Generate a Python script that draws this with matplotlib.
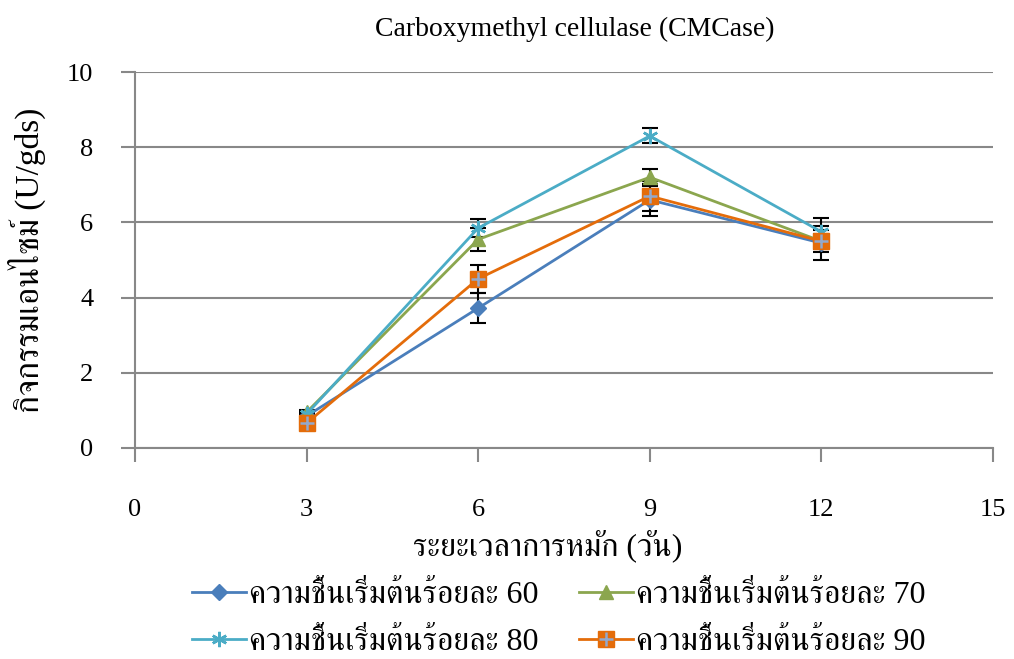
import matplotlib
matplotlib.use("Agg")
import matplotlib.pyplot as plt
from matplotlib.lines import Line2D

plt.rcParams['font.family'] = ['Liberation Serif', 'FreeSerif']

days = [3, 6, 9, 12]
m60 = [0.85, 3.72, 6.60, 5.45]
m70 = [0.95, 5.55, 7.20, 5.50]
m80 = [0.90, 5.85, 8.30, 5.75]
m90 = [0.66, 4.50, 6.70, 5.50]
err60 = [0.05, 0.40, 0.43, 0.45]
err70 = [0.05, 0.30, 0.22, 0.20]
err80 = [0.05, 0.25, 0.20, 0.37]
err90 = [0.05, 0.38, 0.40, 0.30]

labels = ['ความชื้นเริ่มต้นร้อยละ 60', 'ความชื้นเริ่มต้นร้อยละ 70',
          'ความชื้นเริ่มต้นร้อยละ 80', 'ความชื้นเริ่มต้นร้อยละ 90']

c60, c70, c80, c90 = '#4A7EBB', '#8BA64E', '#4BACC6', '#E46C0A'
plus_c = '#93A9CC'

fig = plt.figure(figsize=(10.14, 6.59), dpi=100)
ax = fig.add_axes([0.1331, 0.3202, 0.8462, 0.5705])

ax.grid(axis='y', color='#888888', linewidth=1.5, zorder=0)
ax.set_axisbelow(True)

# error bars first so the markers sit on top
ekw = dict(ecolor='black', elinewidth=1.5, capsize=6, capthick=1.5, zorder=3)
ax.errorbar(days, m60, yerr=err60, fmt='none', **ekw)
ax.errorbar(days, m70, yerr=err70, fmt='none', **ekw)
ax.errorbar(days, m80, yerr=err80, fmt='none', **ekw)
ax.errorbar(days, m90, yerr=err90, fmt='none', **ekw)

ax.plot(days, m60, color=c60, lw=2, marker='D', ms=8, zorder=4)
ax.plot(days, m70, color=c70, lw=2, marker='^', ms=10, zorder=4)
ax.plot(days, m80, color=c80, lw=2, marker=(6, 2, 0), ms=11, mew=1.8, zorder=4)
ax.plot(days, m90, color=c90, lw=2, marker='s', ms=11, zorder=5)
ax.plot(days, m90, ls='none', marker='+', color=plus_c, ms=10, mew=1.8, zorder=6)

ax.set_xlim(0, 15)
ax.set_ylim(0, 10)
ax.set_xticks([0, 3, 6, 9, 12, 15])
ax.set_yticks([0, 2, 4, 6, 8, 10])
for s in ['top', 'right']:
    ax.spines[s].set_visible(False)
for s in ['left', 'bottom']:
    ax.spines[s].set_color('#888888')
    ax.spines[s].set_linewidth(1.5)
ax.tick_params(axis='both', colors='#888888', width=1.5, length=10, labelsize=19,
               labelcolor='black')
ax.tick_params(axis='x', pad=27)
ax.tick_params(axis='y', pad=20)

ax.set_title('Carboxymethyl cellulase (CMCase)', fontsize=20, pad=26, x=0.512)
ax.set_xlabel('ระยะเวลาการหมัก (วัน)', fontsize=23, labelpad=6, x=0.481)
ax.set_ylabel('กิจกรรมเอนไซม์ (U/gds)', fontsize=24, labelpad=15)

handles = [
    Line2D([], [], color=c60, lw=2, marker='D', ms=8),
    Line2D([], [], color=c80, lw=2, marker=(6, 2, 0), ms=11, mew=1.8),
    Line2D([], [], color=c70, lw=2, marker='^', ms=10),
    (Line2D([], [], color=c90, lw=2, marker='s', ms=11),
     Line2D([], [], ls='none', marker='+', color=plus_c, ms=10, mew=1.8)),
]
order = [labels[0], labels[2], labels[1], labels[3]]
fig.legend(handles, order, ncol=2, loc='center', bbox_to_anchor=(0.551, 0.061),
           frameon=False, fontsize=23, handlelength=1.7, columnspacing=1.25,
           labelspacing=0.55, handletextpad=0.1, borderpad=0)

fig.savefig('out.png')
